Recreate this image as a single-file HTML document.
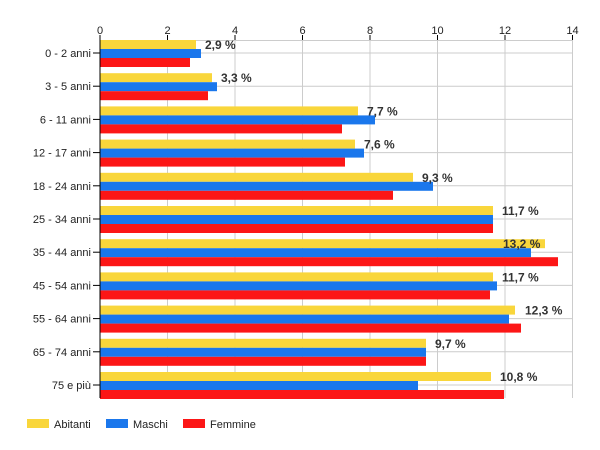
<!DOCTYPE html>
<html><head><meta charset="utf-8"><style>
html,body{margin:0;padding:0;background:#fff;}
svg{display:block;font-family:"Liberation Sans",Arial,sans-serif;}
</style></head><body>
<svg width="600" height="450" viewBox="0 0 600 450">
<g stroke="#cccccc" stroke-width="1">
<line x1="167.5" y1="38" x2="167.5" y2="398"/>
<line x1="235" y1="38" x2="235" y2="398"/>
<line x1="302.5" y1="38" x2="302.5" y2="398"/>
<line x1="370" y1="38" x2="370" y2="398"/>
<line x1="437.5" y1="38" x2="437.5" y2="398"/>
<line x1="505" y1="38" x2="505" y2="398"/>
<line x1="572.5" y1="38" x2="572.5" y2="398"/>
<line x1="100" y1="40.5" x2="573" y2="40.5"/>
<g id="hl"></g>
</g>
<g id="bars"></g>
<g id="axis"></g>
<script>
var ns="http://www.w3.org/2000/svg";
function el(t,a,p,txt){var e=document.createElementNS(ns,t);for(var k in a)e.setAttribute(k,a[k]);if(txt!==undefined)e.textContent=txt;document.getElementById(p).appendChild(e);return e;}
var cats=["0 - 2 anni","3 - 5 anni","6 - 11 anni","12 - 17 anni","18 - 24 anni","25 - 34 anni","35 - 44 anni","45 - 54 anni","55 - 64 anni","65 - 74 anni","75 e più"];
var Y=[196,212,358,355,413,493,545,493,515,426,491];
var B=[201,217,375,364,433,493,531,497,509,426,418];
var R=[190,208,342,345,393,493,558,490,521,426,504];
var L=["2,9 %","3,3 %","7,7 %","7,6 %","9,3 %","11,7 %","13,2 %","11,7 %","12,3 %","9,7 %","10,8 %"];
var LX=[205,221,367,364,422,502,503,502,525,435,500];
for(var i=0;i<11;i++){
 var y0=40+i*33.2;
 var c=y0+13;
 el("line",{x1:100,y1:c,x2:573,y2:c},"hl");
 el("rect",{x:100,y:y0,width:Y[i]-100,height:9,fill:"#f9d63b"},"bars");
 el("rect",{x:100,y:y0+9,width:B[i]-100,height:9,fill:"#1a77ec"},"bars");
 el("rect",{x:100,y:y0+18,width:R[i]-100,height:9,fill:"#fc1616"},"bars");
 el("text",{x:LX[i],y:y0+9,"font-size":"12","font-weight":"bold",fill:"#333"},"bars",L[i]);
 el("line",{x1:93,y1:c,x2:100,y2:c,stroke:"#000"},"axis");
 el("text",{x:91,y:c+4,"font-size":"11","text-anchor":"end",fill:"#222"},"axis",cats[i]);
}
el("line",{x1:100,y1:38,x2:100,y2:398,stroke:"#000"},"axis");
for(var j=0;j<=7;j++){var x=100+j*67.5;
 el("line",{x1:x,y1:35,x2:x,y2:40,stroke:"#000"},"axis");
 el("text",{x:x,y:34,"font-size":"11","text-anchor":"middle",fill:"#222"},"axis",String(j*2));}
</script>
<rect x="27" y="419" width="22" height="9" fill="#f9d63b"/>
<text x="54" y="428" font-size="11" fill="#222">Abitanti</text>
<rect x="106" y="419" width="22" height="9" fill="#1a77ec"/>
<text x="133" y="428" font-size="11" fill="#222">Maschi</text>
<rect x="183" y="419" width="22" height="9" fill="#fc1616"/>
<text x="210" y="428" font-size="11" fill="#222">Femmine</text>
</svg>
</body></html>
